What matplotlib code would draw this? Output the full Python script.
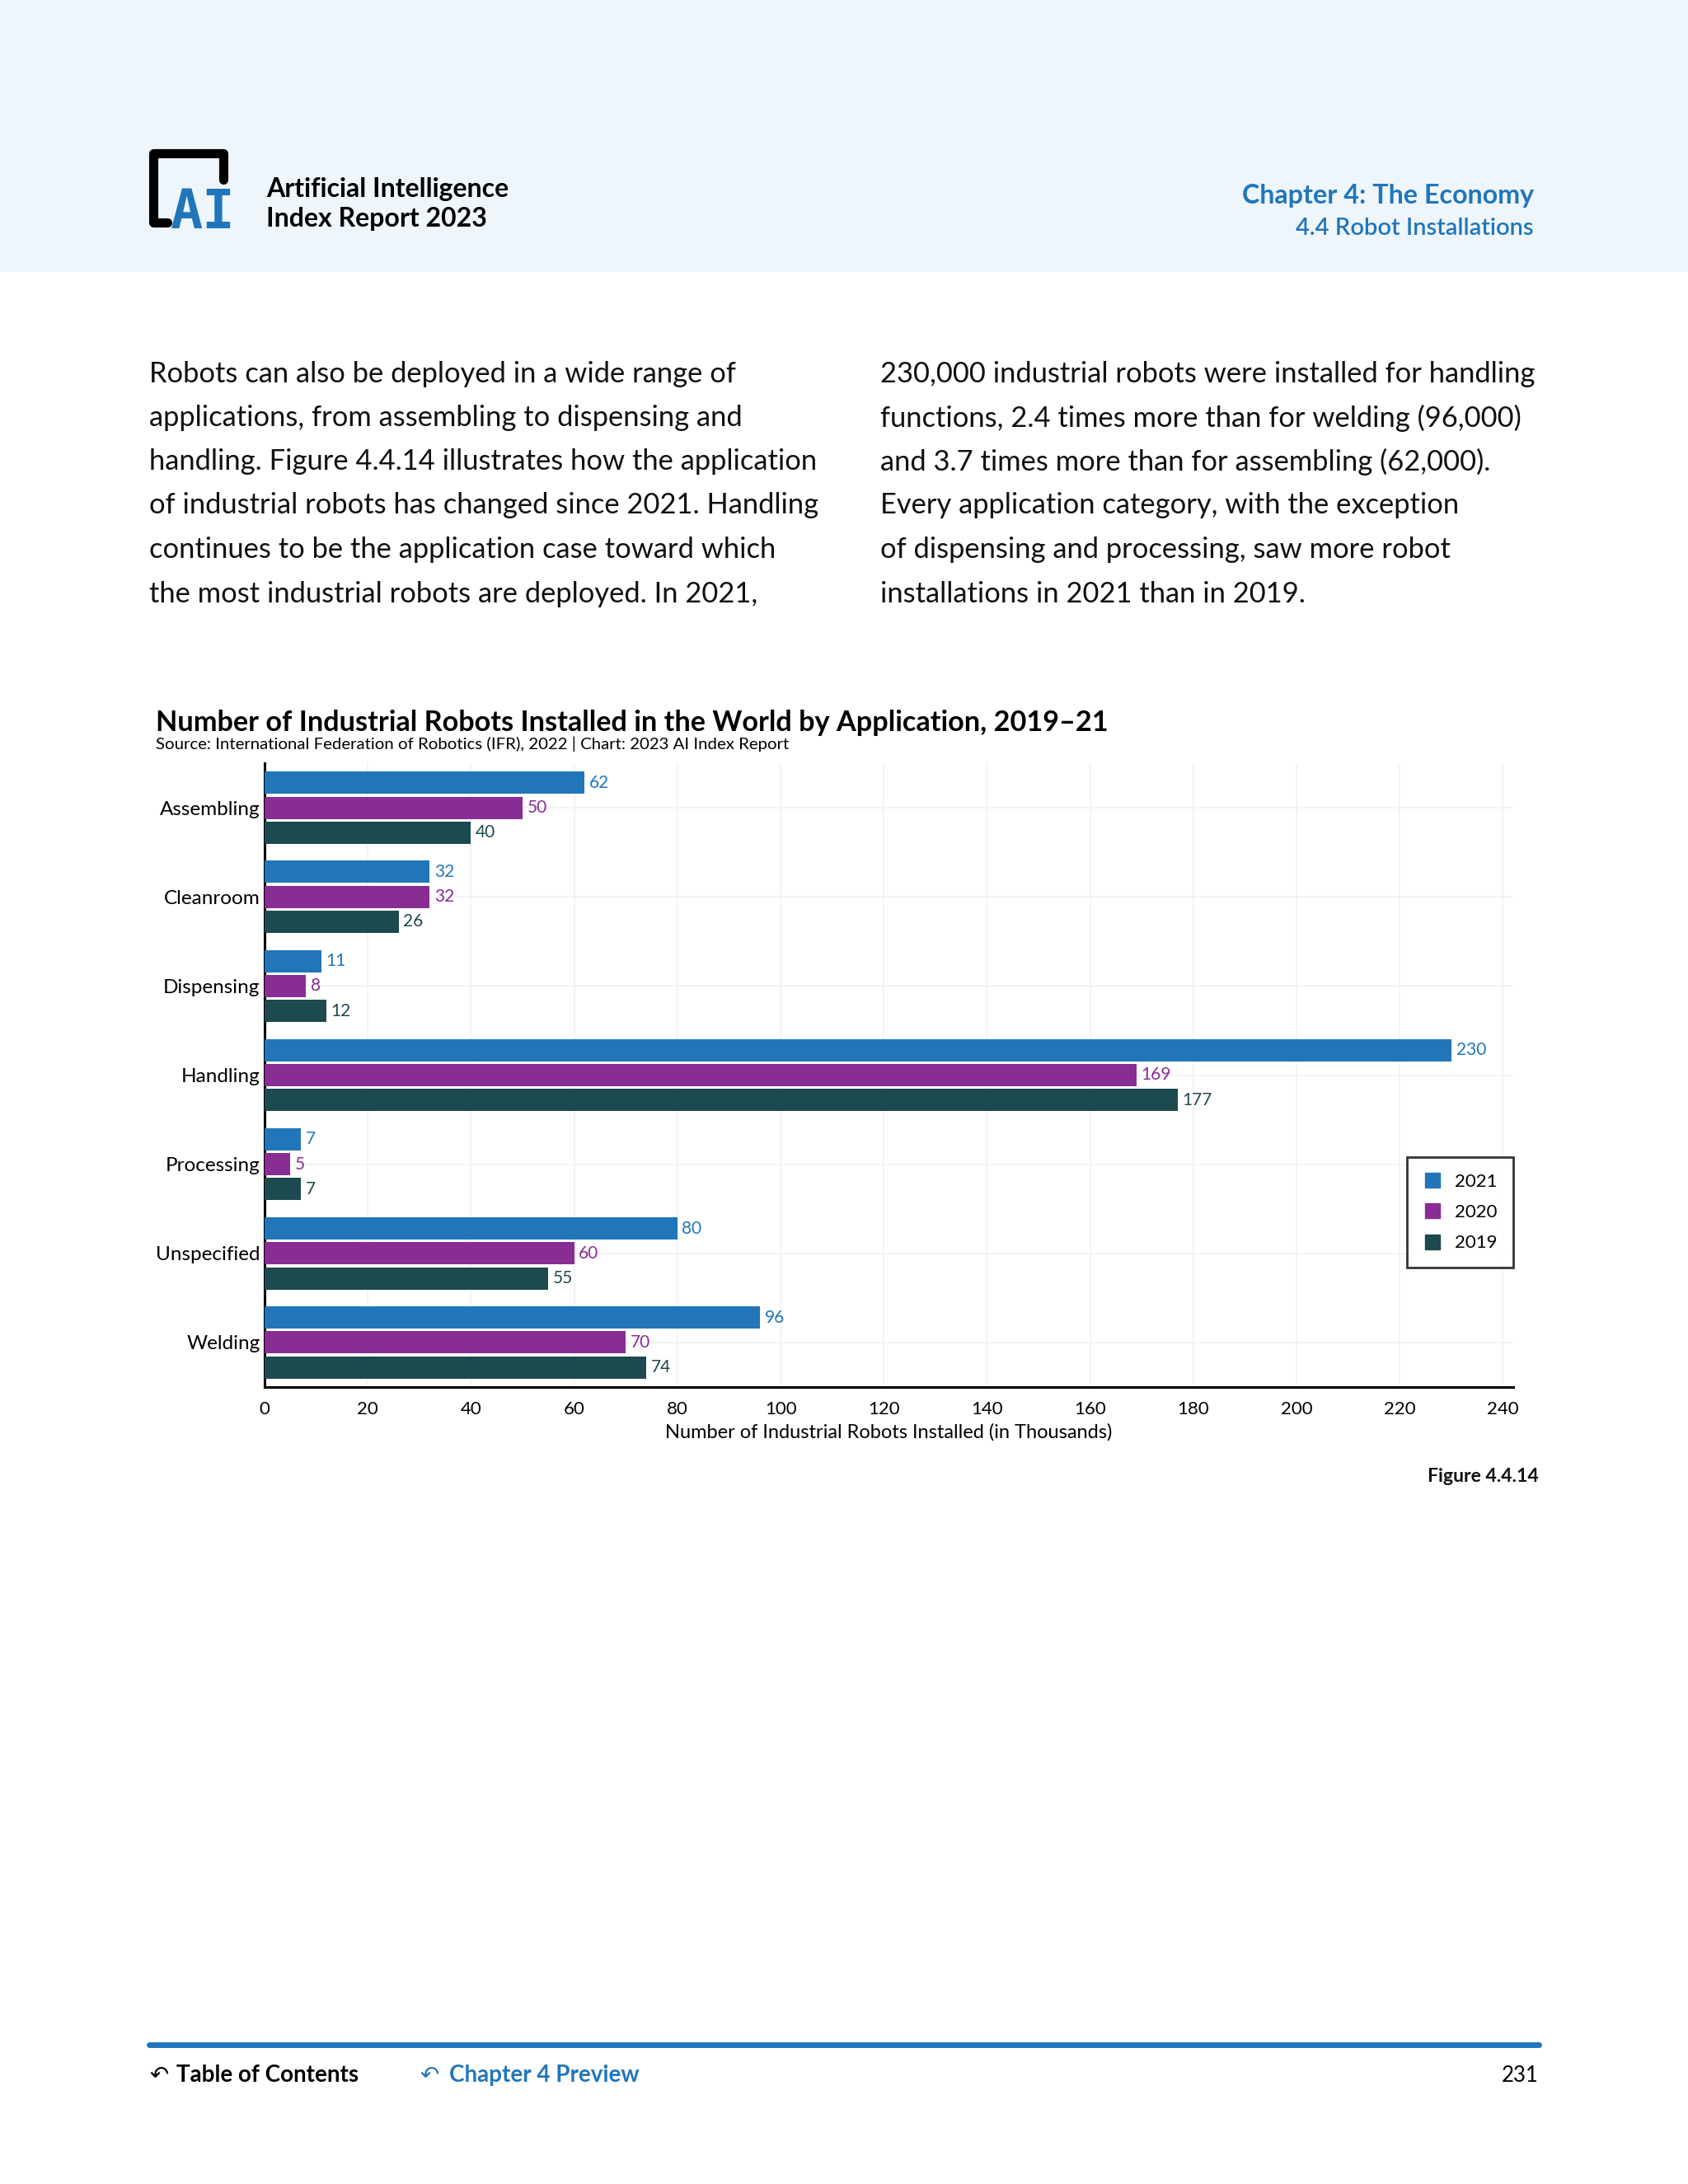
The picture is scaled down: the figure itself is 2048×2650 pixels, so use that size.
import numpy as np
import matplotlib.pyplot as plt
from matplotlib.lines import Line2D
from matplotlib.patches import Rectangle

# data
categories = ['Assembling', 'Cleanroom', 'Dispensing', 'Handling', 'Processing', 'Unspecified', 'Welding']
years = ['2021', '2020', '2019']
vals_2021 = [62, 32, 11, 230, 7, 80, 96]
vals_2020 = [50, 32, 8, 169, 5, 60, 70]
vals_2019 = [40, 26, 12, 177, 7, 55, 74]
x_ticks = [0, 20, 40, 60, 80, 100, 120, 140, 160, 180, 200, 220, 240]

colors = ['#2176BA', '#882D93', '#1D4A4E']
blue = '#2176BA'

plt.rcParams['font.family'] = ['Lato', 'DejaVu Sans']

W, H = 2048, 2650
fig = plt.figure(figsize=(W / 100, H / 100), dpi=100)
fig.patch.set_facecolor('white')

def fx(px):
    return px / W

def fy(py):
    return 1 - py / H

# header band
fig.patches.append(Rectangle((0, fy(330)), 1, 330 / H, transform=fig.transFigure,
                             facecolor='#EEF6FC', edgecolor='none', zorder=0))

# logo (bracket + AI)
fig.add_artist(Line2D([fx(271), fx(271), fx(186), fx(186), fx(203)],
                      [fy(218), fy(186), fy(186), fy(270), fy(270)],
                      transform=fig.transFigure, color='black', lw=8,
                      solid_joinstyle='round', solid_capstyle='round'))
fig.text(fx(207), fy(277), 'AI', fontsize=47, color=blue, fontweight='bold',
         family='DejaVu Sans Mono', ha='left', va='baseline')

fig.text(fx(323), fy(230), 'Artificial Intelligence', fontsize=23, fontweight='bold',
         color='black', ha='left', va='center')
fig.text(fx(323), fy(266), 'Index Report 2023', fontsize=23, fontweight='bold',
         color='black', ha='left', va='center')
fig.text(fx(1861), fy(238), 'Chapter 4: The Economy', fontsize=23.2, fontweight='bold',
         color=blue, ha='right', va='center')
fig.text(fx(1861), fy(277), '4.4 Robot Installations', fontsize=21, fontweight='semibold',
         color=blue, ha='right', va='center')

# body text
left_lines = [
    'Robots can also be deployed in a wide range of',
    'applications, from assembling to dispensing and',
    'handling. Figure 4.4.14 illustrates how the application',
    'of industrial robots has changed since 2021. Handling',
    'continues to be the application case toward which',
    'the most industrial robots are deployed. In 2021,',
]
right_lines = [
    '230,000 industrial robots were installed for handling',
    'functions, 2.4 times more than for welding (96,000)',
    'and 3.7 times more than for assembling (62,000).',
    'Every application category, with the exception',
    'of dispensing and processing, saw more robot',
    'installations in 2021 than in 2019.',
]
line_y = [454, 507, 560, 613, 667, 721]
for ly, a, b in zip(line_y, left_lines, right_lines):
    fig.text(fx(181), fy(ly), a, fontsize=24.8, color='#111111', ha='left', va='center')
    fig.text(fx(1068), fy(ly), b, fontsize=24.8, color='#111111', ha='left', va='center')

# chart title
fig.text(fx(189), fy(877), 'Number of Industrial Robots Installed in the World by Application, 2019\u201321',
         fontsize=24.7, fontweight='bold', color='black', ha='left', va='center')
fig.text(fx(189), fy(903), 'Source: International Federation of Robotics (IFR), 2022 | Chart: 2023 AI Index Report',
         fontsize=14.7, color='black', ha='left', va='center')

# chart
ax = fig.add_axes([fx(321), fy(1683), fx(1836) - fx(321), (1683 - 926) / H])
y = np.arange(len(categories))
bar_h = 0.25
step = 0.28
series = [vals_2021, vals_2020, vals_2019]
for i, (vals, c) in enumerate(zip(series, colors)):
    pos = y + (i - 1) * step
    ax.barh(pos, vals, height=bar_h, color=c, zorder=3)
    for p, v in zip(pos, vals):
        ax.text(v + 0.9, p, str(v), color=c, fontsize=15, ha='left', va='center', zorder=4)

ax.set_ylim(len(categories) - 0.5, -0.5)
ax.set_xlim(0, 242)
ax.set_yticks(y)
ax.set_yticklabels(categories, fontsize=17.5)
ax.set_xticks(x_ticks)
ax.set_xticklabels([str(t) for t in x_ticks], fontsize=16)
ax.tick_params(axis='y', length=0, pad=4)
ax.tick_params(axis='x', length=0, pad=12)
ax.set_xlabel('Number of Industrial Robots Installed (in Thousands)', fontsize=17, labelpad=5)
ax.grid(True, color='#F1F1F1', lw=1.2, zorder=0)
ax.set_axisbelow(True)
for s in ['top', 'right']:
    ax.spines[s].set_visible(False)
for s in ['left', 'bottom']:
    ax.spines[s].set_linewidth(2.2)
    ax.spines[s].set_color('black')

handles = [Line2D([], [], marker='s', linestyle='none', markersize=13, color=c) for c in colors]
leg = ax.legend(handles, years, loc='upper right', bbox_to_anchor=(1.0, 0.369),
                fontsize=16, frameon=True, fancybox=False, borderaxespad=0,
                handlelength=1.0, handletextpad=0.7, borderpad=0.9, labelspacing=0.78)
leg.get_frame().set_edgecolor('black')
leg.get_frame().set_linewidth(2)

fig.text(fx(1867), fy(1791), 'Figure 4.4.14', fontsize=16.6, fontweight='bold',
         color='#111111', ha='right', va='center')

# footer
fig.add_artist(Line2D([fx(181), fx(1867)], [fy(2481), fy(2481)], transform=fig.transFigure,
                      color=blue, lw=5, solid_capstyle='round'))
fig.text(fx(181), fy(2518), '\u21b6', fontsize=20, color='black', family='DejaVu Sans',
         ha='left', va='center')
fig.text(fx(214), fy(2518), 'Table of Contents', fontsize=20, fontweight='bold',
         color='black', ha='left', va='center')
fig.text(fx(509), fy(2518), '\u21b6', fontsize=20, color=blue, family='DejaVu Sans',
         ha='left', va='center')
fig.text(fx(545), fy(2518), 'Chapter 4 Preview', fontsize=20, fontweight='bold',
         color=blue, ha='left', va='center')
fig.text(fx(1867), fy(2518), '231', fontsize=18.5, color='black', ha='right', va='center')

fig.savefig('out.png', dpi=100, facecolor='white')
